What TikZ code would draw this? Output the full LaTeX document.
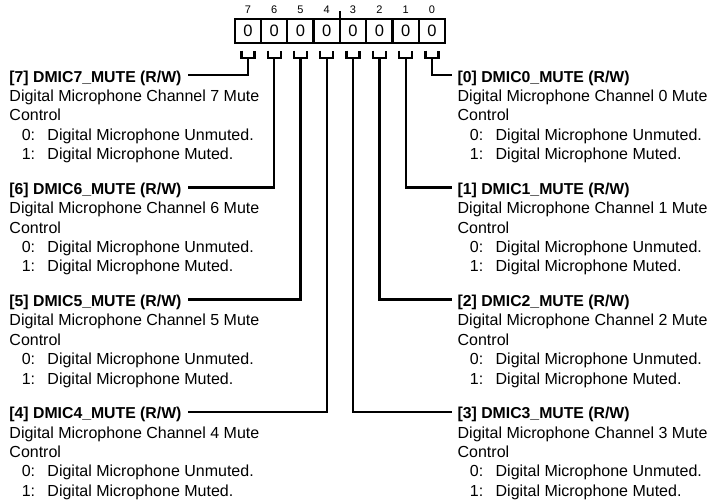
\documentclass[tikz,border=0pt]{standalone}
\usepackage{fontspec}
\setmainfont{Liberation Sans}
\usetikzlibrary{calc}
\newcommand{\regblk}[3]{%
  \node[hd] (h#1) at (#2,#3) {[#1] DMIC#1\_MUTE (R/W)};
  \node[tx] (t#1a) at (#2,#3+19.4) {Digital Microphone Channel #1 Mute};
  \node[tx] (t#1b) at (#2,#3+38.8) {Control};
  \node[tx] (t#1c) at (#2+12.3,#3+58.2) {0:};
  \node[tx] (t#1d) at (#2+38,#3+58.2) {Digital Microphone Unmuted.};
  \node[tx] (t#1e) at (#2+12.3,#3+77.6) {1:};
  \node[tx] (t#1f) at (#2+38,#3+77.6) {Digital Microphone Muted.};
}
\begin{document}
\begin{tikzpicture}[x=1pt,y=-1pt,line width=2.3pt,
  cell/.style={draw, line width=2.3pt, minimum width=26.3pt, minimum height=24pt, inner sep=0pt, font=\fontsize{16.5}{17}\selectfont},
  bitnum/.style={inner sep=0pt, font=\fontsize{11}{12}\selectfont},
  hd/.style={anchor=base west, inner sep=0pt, font=\fontsize{15.8}{18}\selectfont\bfseries},
  tx/.style={anchor=base west, inner sep=0pt, font=\fontsize{16}{18}\selectfont},
  wire/.style={line width=2.3pt}]
\useasboundingbox (0,0) rectangle (710,503);
% register cells
\foreach \b [count=\i from 0] in {7,6,5,4,3,2,1,0} {
  \node[cell] (b\b) at ({234.7+26.3*\i+13.15},31) {0};
  \node[bitnum] (n\b) at ({234.7+26.3*\i+13.15},9.5) {\b};
  \draw[wire] ($(b\b.south)+(-6.5,6.5)$) -- ++(0,7.5) -- ++(13,0) -- ++(0,-7.5);
}
% tick between bit 4 and 3
\coordinate (tk) at (340,11);
\draw[wire] (tk) -- (tk |- b4.north);
% text blocks
\regblk{7}{8.3}{82}
\regblk{6}{8.3}{194.2}
\regblk{5}{8.3}{306.4}
\regblk{4}{8.3}{418.6}
\regblk{0}{456.5}{82}
\regblk{1}{456.5}{194.2}
\regblk{2}{456.5}{306.4}
\regblk{3}{456.5}{418.6}
% connectors
\foreach \b in {7,6,5,4} {
  \draw[wire] ($(b\b.south)+(0,14)$) |- ([xshift=5pt,yshift=2.7pt]h\b.east);
}
\foreach \b in {0,1,2,3} {
  \draw[wire] ($(b\b.south)+(0,14)$) |- ([xshift=-5pt,yshift=2.7pt]h\b.west);
}
\end{tikzpicture}
\end{document}
